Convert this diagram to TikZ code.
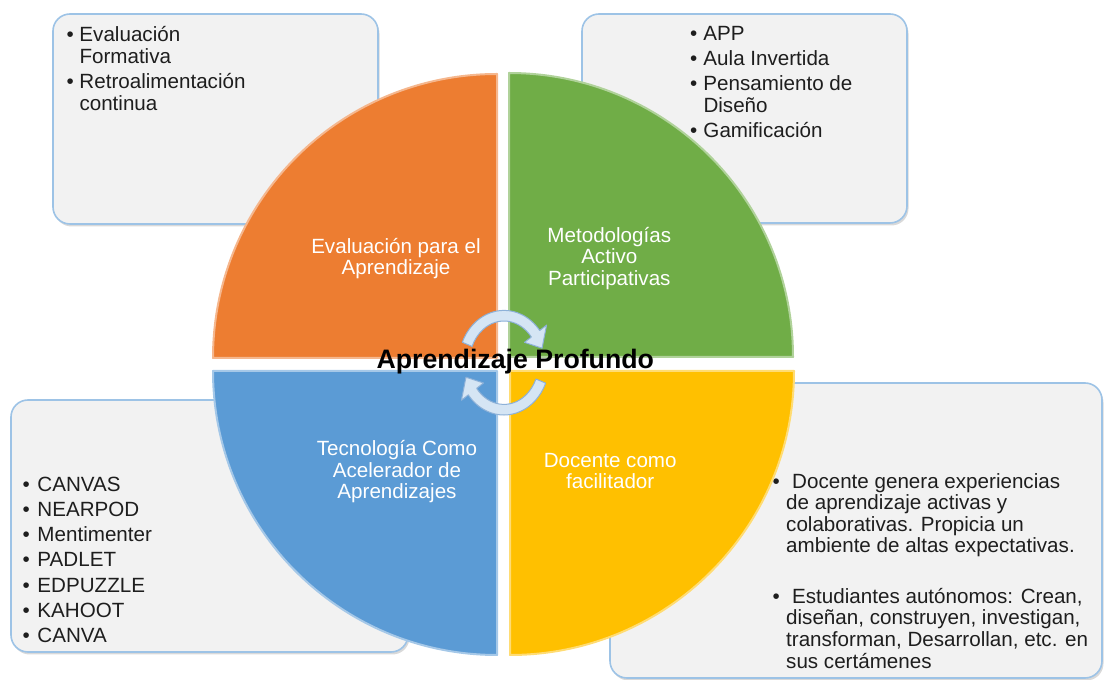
\documentclass[tikz,border=0pt]{standalone}
\usepackage{fontspec}
\setmainfont{Liberation Sans}
\usetikzlibrary{shadows}
\definecolor{qorange}{HTML}{ED7D31}
\definecolor{qgreen}{HTML}{70AD47}
\definecolor{qblue}{HTML}{5B9BD5}
\definecolor{qyellow}{HTML}{FFC000}
\definecolor{boxfill}{HTML}{F2F2F2}
\definecolor{boxline}{HTML}{9DC3E6}
\definecolor{txt}{HTML}{1E1E1E}
\definecolor{arrfill}{HTML}{D5E5F4}
\definecolor{arrline}{HTML}{8DB1D8}
\newcommand{\bl}[1]{\makebox[#1][l]{•}}
\begin{document}
\begin{tikzpicture}[x=1pt,y=1pt,
 box/.style={draw=boxline, line width=1.6pt, fill=boxfill, rounded corners=17pt,
   inner sep=0pt, outer sep=0pt,
   drop shadow={shadow xshift=1.5pt, shadow yshift=-2.5pt, opacity=0.3}},
 listtext/.style={anchor=base west, inner sep=0pt, text=txt,
   font=\fontsize{20.6pt}{22pt}\selectfont},
 quad/.style={line width=2pt, line join=round},
 qlabel/.style={anchor=base, inner sep=0pt, text=white,
   font=\fontsize{20.6pt}{21.3pt}\selectfont},
 cyc/.style={fill=arrfill, draw=arrline, line width=1pt, line join=round}
]
\useasboundingbox (0,0) rectangle (1104,680);
% boxes
\node[box, minimum width=325pt, minimum height=210pt] (tl) at (215.5,561) {};
\node[box, minimum width=325pt, minimum height=209pt] (tr) at (744.5,561.5) {};
\node[box, minimum width=397pt, minimum height=252pt] (bl) at (209.5,154) {};
\node[box, minimum width=492pt, minimum height=295pt] (br) at (856,149.5) {};
% list texts
\node[listtext] (tltext) at (66.5,638.3) {\begin{tabular}[t]{@{}l@{}l@{}}
\bl{12.8pt}&Evaluación\\ &Formativa\\[2.8pt]
\bl{12.8pt}&Retroalimentación\\ &continua\end{tabular}};
\node[listtext] (trtext) at (690,639.3) {\begin{tabular}[t]{@{}l@{}l@{}}
\bl{13.3pt}&APP\\[2.8pt]
\bl{13.3pt}&Aula Invertida\\[2.8pt]
\bl{13.3pt}&Pensamiento de\\ &Diseño\\[2.8pt]
\bl{13.3pt}&Gamificación\end{tabular}};
\node[listtext, font=\fontsize{20.6pt}{25.1pt}\selectfont] (bltext) at (22.4,188.3) {\begin{tabular}[t]{@{}l@{}l@{}}
\bl{14.9pt}&CANVAS\\
\bl{14.9pt}&NEARPOD\\
\bl{14.9pt}&Mentimenter\\
\bl{14.9pt}&PADLET\\
\bl{14.9pt}&EDPUZZLE\\
\bl{14.9pt}&KAHOOT\\
\bl{14.9pt}&CANVA\end{tabular}};
\node[listtext, font=\fontsize{20.6pt}{21.5pt}\selectfont] (brtext) at (772.4,191.7) {\begin{tabular}[t]{@{}l@{}l@{}}
\bl{13.6pt}&\hspace{6pt}Docente genera experiencias\\
 &de aprendizaje activas y\\
 &colaborativas. Propicia un\\
 &ambiente de altas expectativas.\\[29pt]
\bl{13.6pt}&\hspace{6pt}Estudiantes autónomos: Crean,\\
 &diseñan, construyen, investigan,\\
 &transforman, Desarrollan, etc. en\\
 &sus certámenes\end{tabular}};
% quadrants
\path[quad, fill=qorange, draw=qorange!55!white] (497,322) -- (213,322)
  arc[start angle=180, end angle=90, radius=284] -- cycle;
\path[quad, fill=qgreen, draw=qgreen!55!white] (509,323) -- (509,607)
  arc[start angle=90, end angle=0, radius=284] -- cycle;
\path[quad, fill=qblue, draw=qblue!55!white] (497,309) -- (213,309)
  arc[start angle=180, end angle=270, radius=284] -- cycle;
\path[quad, fill=qyellow, draw=qyellow!55!white] (510,309) -- (794,309)
  arc[start angle=0, end angle=-90, radius=284] -- cycle;
% quadrant labels
\node[qlabel] (qo) at (396,426.4) {\begin{tabular}[t]{@{}c@{}}Evaluación para el\\Aprendizaje\end{tabular}};
\node[qlabel] (qg) at (609.3,437.4) {\begin{tabular}[t]{@{}c@{}}Metodologías\\Activo\\Participativas\end{tabular}};
\node[qlabel] (qb) at (397,224) {\begin{tabular}[t]{@{}c@{}}Tecnología Como\\Acelerador de\\Aprendizajes\end{tabular}};
\node[qlabel] (qy) at (610.2,212.8) {\begin{tabular}[t]{@{}c@{}}Docente como\\facilitador\end{tabular}};
% cycle arrows
\coordinate (cyc) at (504,317.3);
\path[cyc] ([shift={(cyc)}]157:45.3 and 52.3)
  arc[start angle=157, end angle=38, x radius=45.3, y radius=52.3]
  -- ([shift={(cyc)}]38:54 and 61) -- ([shift={(cyc)}]18:40 and 47)
  -- ([shift={(cyc)}]38:26 and 33) -- ([shift={(cyc)}]38:34.7 and 41.7)
  arc[start angle=38, end angle=157, x radius=34.7, y radius=41.7] -- cycle;
\path[cyc] ([shift={(cyc)}]-23:45.3 and 52.3)
  arc[start angle=-23, end angle=-142, x radius=45.3, y radius=52.3]
  -- ([shift={(cyc)}]-142:54 and 61) -- ([shift={(cyc)}]-162:40 and 47)
  -- ([shift={(cyc)}]-142:26 and 33) -- ([shift={(cyc)}]-142:34.7 and 41.7)
  arc[start angle=-142, end angle=-23, x radius=34.7, y radius=41.7] -- cycle;
% centre label
\node[anchor=base, inner sep=0pt, text=black, font=\fontsize{26.7pt}{28pt}\selectfont\bfseries] (core) at (515.3,311.7) {Aprendizaje Profundo};
\end{tikzpicture}
\end{document}
